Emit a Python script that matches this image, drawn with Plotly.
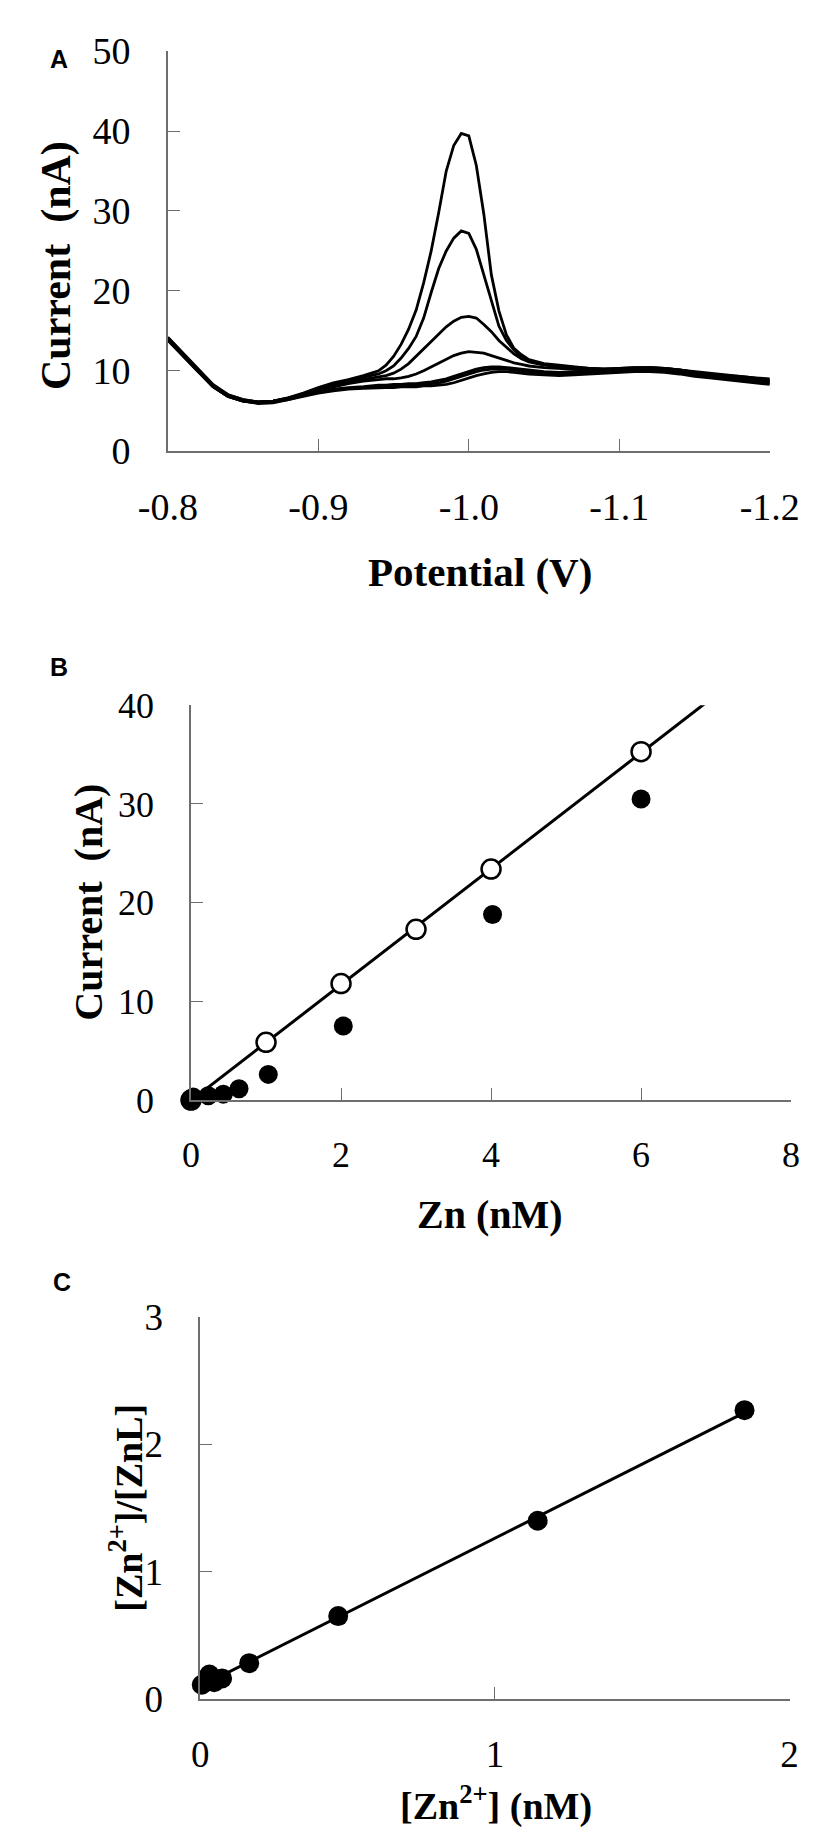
import numpy as np
import plotly.graph_objects as go

# ---------------- Panel A data: potential (V) and current (nA) ----------------
potential = [-0.80, -0.81, -0.82, -0.83, -0.84, -0.85, -0.86, -0.87, -0.88, -0.89,
             -0.90, -0.91, -0.92, -0.93, -0.94, -0.945, -0.95, -0.955, -0.96, -0.965,
             -0.97, -0.975, -0.98, -0.985, -0.99, -0.995, -1.00, -1.005, -1.01, -1.015,
             -1.02, -1.025, -1.03, -1.035, -1.04, -1.05, -1.06, -1.07, -1.08, -1.09,
             -1.10, -1.11, -1.12, -1.13, -1.14, -1.15, -1.16, -1.17, -1.18, -1.19, -1.20]

curve_1 = [14.0, 12.0, 10.0, 8.1, 6.9, 6.3, 6.0, 6.2, 6.6, 7.2,
           7.9, 8.5, 8.9, 9.4, 10.0, 10.7, 11.8, 13.3, 15.2, 17.6,
           21.0, 25.0, 29.8, 35.0, 38.2, 39.7, 39.4, 35.7, 29.6, 22.0,
           17.5, 14.5, 12.8, 12.0, 11.4, 10.9, 10.7, 10.5, 10.3, 10.2,
           10.2, 10.3, 10.3, 10.2, 10.0, 9.8, 9.6, 9.4, 9.3, 9.1, 9.0]
curve_2 = [14.1, 12.1, 10.1, 8.2, 7.0, 6.4, 6.1, 6.2, 6.6, 7.1,
           7.8, 8.4, 8.8, 9.2, 9.6, 10.0, 10.6, 11.6, 12.8, 14.3,
           16.6, 19.8, 22.8, 25.0, 26.6, 27.5, 27.2, 25.2, 22.0, 18.6,
           15.6, 13.8, 12.6, 11.7, 11.2, 10.8, 10.6, 10.4, 10.3, 10.2,
           10.2, 10.3, 10.4, 10.3, 10.1, 9.9, 9.7, 9.5, 9.3, 9.1, 8.9]
curve_3 = [13.9, 11.9, 9.9, 8.0, 6.8, 6.2, 6.0, 6.1, 6.5, 7.0,
           7.6, 8.2, 8.6, 8.9, 9.2, 9.4, 9.7, 10.2, 10.9, 11.8,
           12.8, 13.6, 14.6, 15.5, 16.2, 16.7, 16.8, 16.6, 15.8, 14.9,
           13.8, 12.9, 12.1, 11.5, 11.1, 10.7, 10.5, 10.4, 10.3, 10.2,
           10.3, 10.4, 10.4, 10.3, 10.1, 9.8, 9.5, 9.3, 9.1, 8.9, 8.7]
curve_4 = [14.0, 12.0, 10.0, 8.1, 6.9, 6.3, 6.1, 6.2, 6.5, 7.0,
           7.5, 8.0, 8.4, 8.7, 8.9, 9.0, 9.0, 9.1, 9.3, 9.6,
           10.0, 10.5, 11.0, 11.5, 11.9, 12.2, 12.4, 12.3, 12.2, 11.9,
           11.6, 11.3, 11.0, 10.8, 10.6, 10.4, 10.3, 10.2, 10.1, 10.1,
           10.2, 10.3, 10.3, 10.2, 10.0, 9.7, 9.4, 9.2, 9.0, 8.8, 8.6]
curve_5 = [13.8, 11.8, 9.9, 8.0, 6.8, 6.2, 6.0, 6.1, 6.4, 6.9,
           7.3, 7.7, 7.9, 8.0, 8.2, 8.2, 8.3, 8.3, 8.4, 8.4,
           8.5, 8.6, 8.8, 9.0, 9.3, 9.6, 9.9, 10.2, 10.4, 10.5,
           10.5, 10.4, 10.3, 10.2, 10.1, 9.9, 9.8, 9.9, 10.0, 10.2,
           10.3, 10.4, 10.4, 10.3, 10.1, 9.8, 9.5, 9.2, 9.0, 8.8, 8.6]
curve_6 = [14.2, 12.2, 10.2, 8.3, 7.0, 6.4, 6.1, 6.2, 6.5, 6.9,
           7.3, 7.6, 7.8, 7.9, 8.0, 8.0, 8.1, 8.1, 8.2, 8.2,
           8.3, 8.4, 8.5, 8.7, 9.0, 9.3, 9.6, 9.9, 10.1, 10.2,
           10.2, 10.2, 10.1, 10.0, 9.9, 9.7, 9.6, 9.7, 9.8, 9.9,
           10.0, 10.1, 10.1, 10.0, 9.8, 9.5, 9.3, 9.0, 8.8, 8.6, 8.4]
curve_7 = [13.9, 11.9, 9.9, 8.0, 6.8, 6.2, 5.9, 6.0, 6.4, 6.8,
           7.2, 7.5, 7.7, 7.8, 7.9, 7.9, 7.9, 8.0, 8.0, 8.0,
           8.1, 8.1, 8.2, 8.3, 8.5, 8.8, 9.1, 9.4, 9.6, 9.8,
           9.9, 9.9, 9.8, 9.7, 9.6, 9.5, 9.4, 9.5, 9.6, 9.7,
           9.8, 9.9, 9.9, 9.8, 9.6, 9.3, 9.1, 8.9, 8.7, 8.5, 8.3]
curves_A = [curve_1, curve_2, curve_3, curve_4, curve_5, curve_6, curve_7]

# ---------------- Panel B data ----------------
zn_open = [0.0, 1.0, 2.0, 3.0, 4.0, 6.0]
cur_open = [0.0, 5.85, 11.8, 17.3, 23.4, 35.3]
zn_filled = [0.0, 0.03, 0.23, 0.43, 0.64, 1.03, 2.03, 4.02, 6.0]
cur_filled = [0.1, 0.3, 0.43, 0.6, 1.15, 2.6, 7.5, 18.8, 30.5]

# ---------------- Panel C data ----------------
zn_free = [0.005, 0.031, 0.047, 0.074, 0.166, 0.468, 1.145, 1.847]
ratio = [0.11, 0.19, 0.13, 0.16, 0.28, 0.65, 1.40, 2.27]

W, H = 827, 1846


def px_x(p):
    return p / W


def px_y(p):
    return 1 - p / H


fig = go.Figure()

for c in curves_A:
    fig.add_trace(go.Scatter(x=potential, y=c, mode="lines",
                             line=dict(color="black", width=2.8),
                             xaxis="x", yaxis="y", showlegend=False))

# Panel B fit line (through open circles)
mB, bB = np.polyfit(zn_open, cur_open, 1)
xB_end = (40 - bB) / mB
fig.add_trace(go.Scatter(x=[0, xB_end + 0.05], y=[bB, mB * (xB_end + 0.05) + bB], mode="lines",
                         line=dict(color="black", width=3),
                         xaxis="x2", yaxis="y2", showlegend=False))
fig.add_trace(go.Scatter(x=zn_open, y=cur_open, mode="markers",
                         marker=dict(color="white", size=19, line=dict(color="black", width=2.5)),
                         xaxis="x2", yaxis="y2", showlegend=False, cliponaxis=False))
fig.add_trace(go.Scatter(x=zn_filled, y=cur_filled, mode="markers",
                         marker=dict(color="black", size=19, line=dict(width=0)),
                         xaxis="x2", yaxis="y2", showlegend=False, cliponaxis=False))

# Panel C fit line
mC, bC = np.polyfit(zn_free, ratio, 1)
fig.add_trace(go.Scatter(x=[0.0, zn_free[-1]], y=[bC, mC * zn_free[-1] + bC], mode="lines",
                         line=dict(color="black", width=3),
                         xaxis="x3", yaxis="y3", showlegend=False))
fig.add_trace(go.Scatter(x=zn_free, y=ratio, mode="markers",
                         marker=dict(color="black", size=20, line=dict(width=0)),
                         xaxis="x3", yaxis="y3", showlegend=False, cliponaxis=False))

serif = "Liberation Serif, Times New Roman, DejaVu Serif, serif"
axcol = "#6e6e6e"


def ax(domain, rng, dtick, tickfont_size, anchor, standoff, tickvals=None, ticktext=None):
    d = dict(domain=domain, range=rng, showgrid=False, zeroline=False,
             showline=True, linecolor=axcol, linewidth=1.6,
             ticks="inside", ticklen=12, tickwidth=1.4, tickcolor=axcol,
             tickfont=dict(family=serif, size=tickfont_size, color="black"),
             anchor=anchor, ticklabelstandoff=standoff, fixedrange=True)
    if tickvals is not None:
        d.update(tickmode="array", tickvals=tickvals, ticktext=ticktext)
    else:
        d.update(tick0=rng[0], dtick=dtick)
    return d


layout = dict(
    width=W, height=H, margin=dict(l=0, r=0, t=0, b=0),
    paper_bgcolor="white", plot_bgcolor="white",
    font=dict(family=serif, color="black"),
    xaxis=ax([px_x(140), px_x(789)], [-0.8, -1.2], None, 38, "y", 22,
             tickvals=[-0.8, -0.9, -1.0, -1.1, -1.2],
             ticktext=["-0.8", "-0.9", "-1.0", "-1.1", "-1.2"]),
    yaxis=ax([px_y(431.5), px_y(22.7)], [0, 50], 10, 38, "x", 28),
    xaxis2=ax([px_x(165), px_x(812)], [0, 8], 2, 36, "y2", 22),
    yaxis2=ax([px_y(1096), px_y(692)], [0, 40], 10, 36, "x2", 28),
    xaxis3=ax([px_x(175), px_x(810.4)], [0, 2], 1, 37, "y3", 22),
    yaxis3=ax([px_y(1708.6), px_y(1318.4)], [0, 3], 1, 37, "x3", 28),
)

bold = dict(family=serif, color="black")
sans = "Liberation Sans, Arial, sans-serif"
ann = [
    dict(text="<b>A</b>", x=px_x(23), y=px_y(31), font=dict(family=sans, size=25, color="black")),
    dict(text="<b>B</b>", x=px_x(23), y=px_y(653), font=dict(family=sans, size=25, color="black")),
    dict(text="<b>C</b>", x=px_x(26), y=px_y(1282), font=dict(family=sans, size=25, color="black")),
    dict(text="<b>Potential (V)</b>", x=px_x(477), y=px_y(556), font=dict(size=41, **bold)),
    dict(text="<b>Current\u00a0 (nA)</b>", x=px_x(20), y=px_y(242), textangle=-90, font=dict(size=42, **bold)),
    dict(text="<b>Zn (nM)</b>", x=px_x(487), y=px_y(1213), font=dict(size=40, **bold)),
    dict(text="<b>Current\u00a0 (nA)</b>", x=px_x(55), y=px_y(894), textangle=-90, font=dict(size=40, **bold)),
    dict(text="<b>[Zn<sup>2+</sup>] (nM)</b>", x=px_x(494), y=px_y(1816), font=dict(size=38, **bold)),
    dict(text="<b>[Zn<sup>2+</sup>]/[ZnL]</b>", x=px_x(94), y=px_y(1513), textangle=-90, font=dict(size=38, **bold)),
]
for a in ann:
    a.update(xref="paper", yref="paper", showarrow=False, xanchor="center", yanchor="middle")
layout["annotations"] = ann

fig.update_layout(**layout)
fig.write_html("out.html")
